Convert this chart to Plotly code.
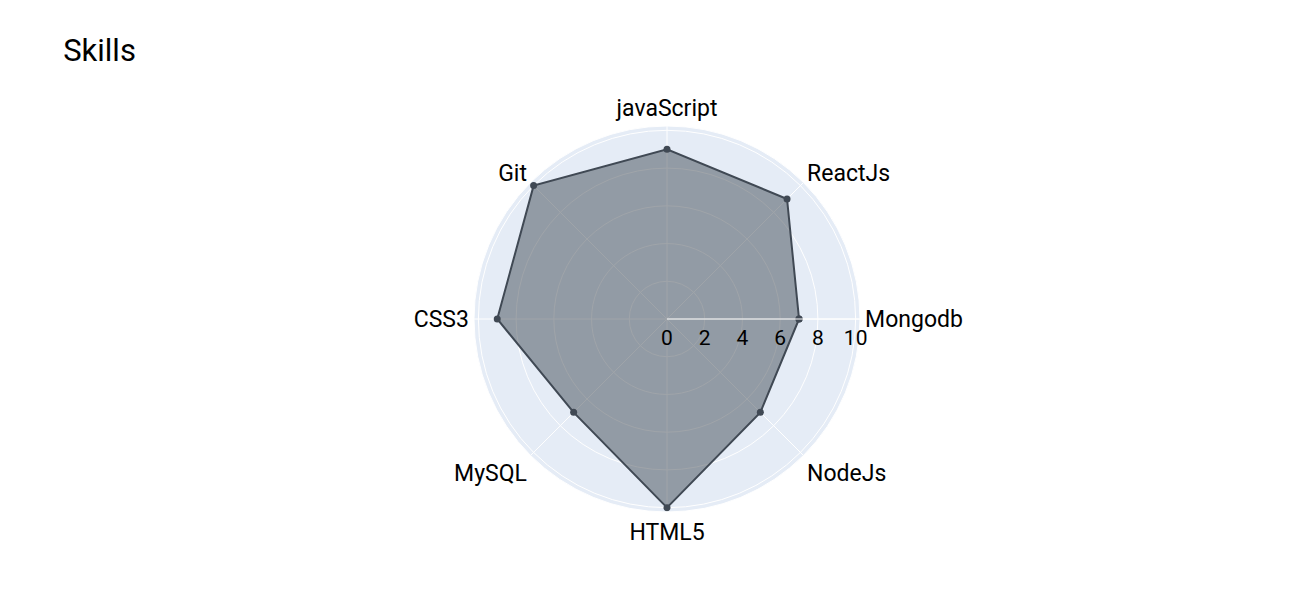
import plotly.graph_objects as go

categories = ["Mongodb", "ReactJs", "javaScript", "Git", "CSS3", "MySQL", "HTML5", "NodeJs"]
values = [7, 9, 9, 10, 9, 7, 10, 7]

theta = categories + [categories[0]]
r = values + [values[0]]

fig = go.Figure()
fig.add_trace(go.Scatterpolar(
    r=r, theta=theta, fill="toself", mode="lines+markers",
    line=dict(color="rgb(64,73,84)", width=2),
    marker=dict(size=7, color="rgb(64,73,84)"),
    fillcolor="rgba(64,73,84,0.5)",
    showlegend=False,
))

fig.update_layout(
    template="plotly",
    width=1289, height=613,
    font=dict(family="Roboto", size=20, color="#000"),
    title=dict(text="Skills", x=0.049, xanchor="left", y=1 - 50 / 613, yanchor="middle",
               font=dict(size=31, color="#000")),
    margin=dict(l=80, r=35, t=126, b=101),
    polar=dict(
        radialaxis=dict(visible=True, dtick=2, tickfont=dict(size=21)),
        angularaxis=dict(tickfont=dict(size=23), direction="counterclockwise", rotation=0),
    ),
)

fig.write_html("out.html")
